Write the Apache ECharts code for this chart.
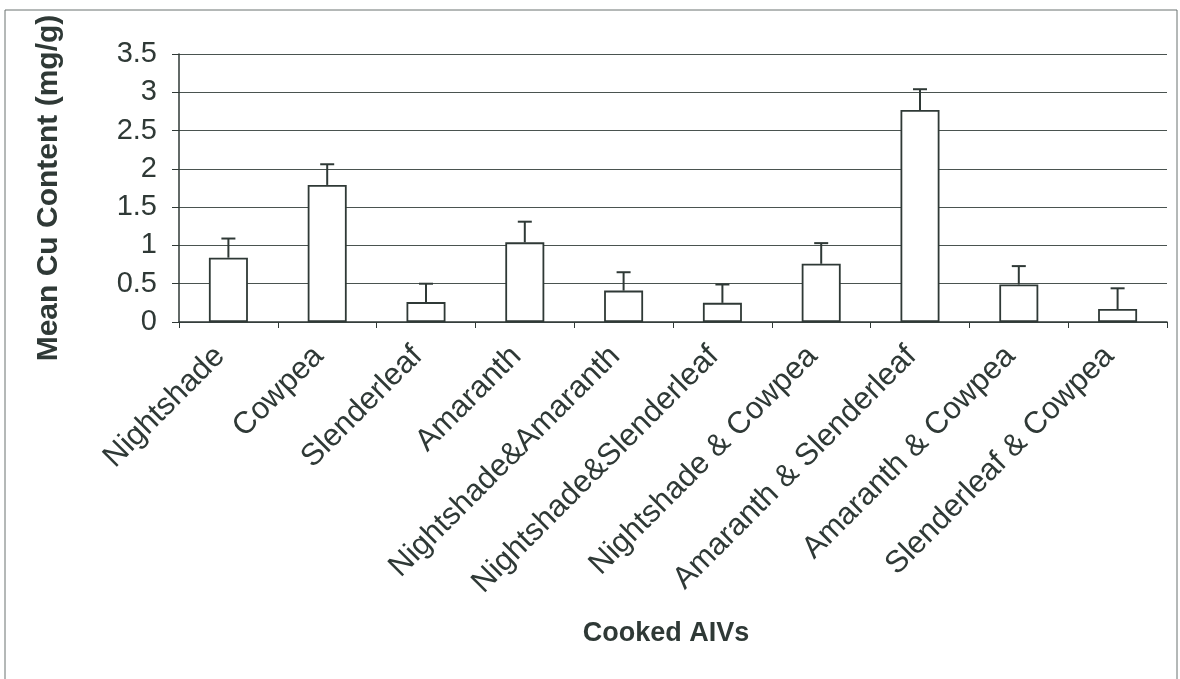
<!DOCTYPE html>
<html>
<head>
<meta charset="utf-8">
<script src="https://cdn.jsdelivr.net/npm/echarts@6/dist/echarts.min.js"></script>
<style>
  html, body { margin: 0; padding: 0; background: #fff; }
  #chart { width: 1180px; height: 679px; }
</style>
</head>
<body>
<div id="chart"></div>
<script>
// Cooked African indigenous vegetables and their mean copper content
const categories = [
  'Nightshade', 'Cowpea', 'Slenderleaf', 'Amaranth', 'Nightshade&Amaranth',
  'Nightshade&Slenderleaf', 'Nightshade & Cowpea', 'Amaranth & Slenderleaf',
  'Amaranth & Cowpea', 'Slenderleaf & Cowpea'
];
const meanCu = [0.84, 1.79, 0.26, 1.04, 0.41, 0.25, 0.76, 2.77, 0.49, 0.17];
const stdErr = [0.25, 0.27, 0.24, 0.27, 0.24, 0.24, 0.27, 0.27, 0.24, 0.27];
const yTicks = [0, 0.5, 1, 1.5, 2, 2.5, 3, 3.5];

const ink = '#2f3936';
const font = 'Liberation Sans, Arial, sans-serif';

const chart = echarts.init(document.getElementById('chart'));

chart.setOption({
  backgroundColor: '#ffffff',
  animation: false,
  graphic: [{
    type: 'rect',
    shape: { x: 5, y: 10, width: 1172, height: 690 },
    style: { fill: 'none', stroke: '#6b7370', lineWidth: 1 },
    silent: true
  }],
  grid: { left: 179, right: 13, top: 54, bottom: 357 },
  xAxis: {
    type: 'category',
    data: categories,
    boundaryGap: true,
    name: 'Cooked AIVs',
    nameLocation: 'middle',
    nameGap: 298,
    nameTextStyle: { color: ink, fontFamily: font, fontWeight: 'bold', fontSize: 27, padding: [0, 14, 0, 0] },
    axisLine: { show: true, lineStyle: { color: ink, width: 1.5 } },
    axisTick: { show: true, alignWithLabel: false, length: 6, lineStyle: { color: ink } },
    axisLabel: {
      rotate: 45, interval: 0, margin: 21,
      padding: [0, 12, 0, 0],
      color: ink, fontFamily: font, fontSize: 31
    },
    splitLine: { show: false }
  },
  yAxis: {
    type: 'value',
    min: yTicks[0],
    max: yTicks[yTicks.length - 1],
    interval: 0.5,
    name: 'Mean Cu Content (mg/g)',
    nameLocation: 'middle',
    nameGap: 115,
    nameTextStyle: { color: ink, fontFamily: font, fontWeight: 'bold', fontSize: 30 },
    axisLine: { show: true, lineStyle: { color: ink, width: 1.5 } },
    axisTick: { show: true, length: 7, lineStyle: { color: ink } },
    axisLabel: {
      margin: 22, color: ink, fontFamily: font, fontSize: 29,
      formatter: v => String(v)
    },
    splitLine: { show: true, lineStyle: { color: '#4a5350', width: 1 } }
  },
  series: [
    {
      type: 'bar',
      data: meanCu,
      barWidth: 39,
      itemStyle: { color: '#ffffff', borderColor: ink, borderWidth: 1.8 },
      z: 3
    },
    {
      type: 'custom',
      data: meanCu.map((v, i) => [i, v, stdErr[i]]),
      z: 4,
      renderItem: function (params, api) {
        const i = api.value(0);
        const base = api.coord([i, api.value(1)]);
        const top = api.coord([i, api.value(1) + api.value(2)]);
        const half = 7;
        const style = { stroke: ink, lineWidth: 2 };
        return {
          type: 'group',
          children: [
            { type: 'line', shape: { x1: base[0], y1: base[1], x2: top[0], y2: top[1] }, style: style },
            { type: 'line', shape: { x1: top[0] - half, y1: top[1], x2: top[0] + half, y2: top[1] }, style: style }
          ]
        };
      }
    }
  ]
});
</script>
</body>
</html>
